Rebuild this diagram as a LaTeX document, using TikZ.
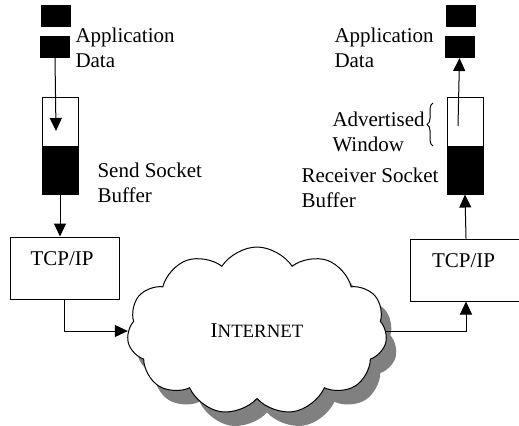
\documentclass[tikz,border=0pt]{standalone}
\usepackage{fontspec}
\setmainfont{Liberation Serif}
\usetikzlibrary{arrows.meta,shapes.symbols,shadows,decorations.pathreplacing}

\begin{document}
\begin{tikzpicture}[x=0.5pt,y=-0.5pt,line width=0.5pt,
    >={Triangle[length=6.5pt,width=6pt]},
    font=\fontsize{10.5}{12.5}\selectfont,
    datablk/.style={fill=black,minimum width=15pt,minimum height=11pt,inner sep=0pt},
    sockbuf/.style={draw,minimum width=18pt,minimum height=48.5pt,inner sep=0pt},
    tcpbox/.style={draw,minimum height=31pt,text width=34pt,align=left,
      text height=7pt,text depth=10pt},
    lbl/.style={anchor=north west,align=left,inner sep=0pt}]
  \useasboundingbox (0,0) rectangle (519,425);

  % sending side
  \node[datablk] (sa1) at (56,16) {};
  \node[datablk] (sa2) at (55,46.5) {};
  \node[lbl] (sdata) at (75,27) {Application\\Data};
  \node[sockbuf] (sbuf) at (60,145.5) {};
  \fill (sbuf.west) rectangle (sbuf.south east);
  \coordinate (sfill) at (56,131);
  \draw[->] (sa2.south) -- (sfill);
  \node[lbl] (ssock) at (97,162) {Send Socket\\Buffer};
  \node[tcpbox,minimum width=54.5pt] (stcp) at (64.5,268) {TCP/IP};
  \draw[->] (sbuf.south) -- (sbuf.south |- stcp.north);

  % the net
  \node[cloud,draw,fill=white,cloud puffs=11,cloud puff arc=115,aspect=1.6,
    minimum width=130pt,minimum height=84pt,inner sep=0pt,
    drop shadow={shadow xshift=5pt,shadow yshift=-7pt,fill=black!50,opacity=1}]
    (net) at (257,331) {I{\fontsize{9.4}{10}\selectfont NTERNET}};
  \draw[->] (stcp.south) |- (net.west);

  % receiving side
  \node[tcpbox,minimum width=56pt] (rtcp) at (466,270) {TCP/IP};
  \draw[->] (net.east) -| (rtcp.south);
  \node[sockbuf] (rbuf) at (465,145.5) {};
  \fill (rbuf.west) rectangle (rbuf.south east);
  \draw[->] (rtcp.north) -- (rbuf.south);
  \node[datablk] (ra1) at (460.5,16) {};
  \node[datablk] (ra2) at (459.5,46.5) {};
  \coordinate (rfill) at (458,126);
  \draw[->] (rfill) -- (ra2.south);
  \node[lbl] (rdata) at (334,27) {Application\\Data};
  \node[lbl] (rwin) at (332,111) {Advertised\\Window};
  \draw[decorate,decoration={brace,amplitude=3pt}] (433,146) -- (433,103);
  \node[lbl] (rsock) at (301,167) {Receiver Socket\\Buffer};
\end{tikzpicture}
\end{document}
